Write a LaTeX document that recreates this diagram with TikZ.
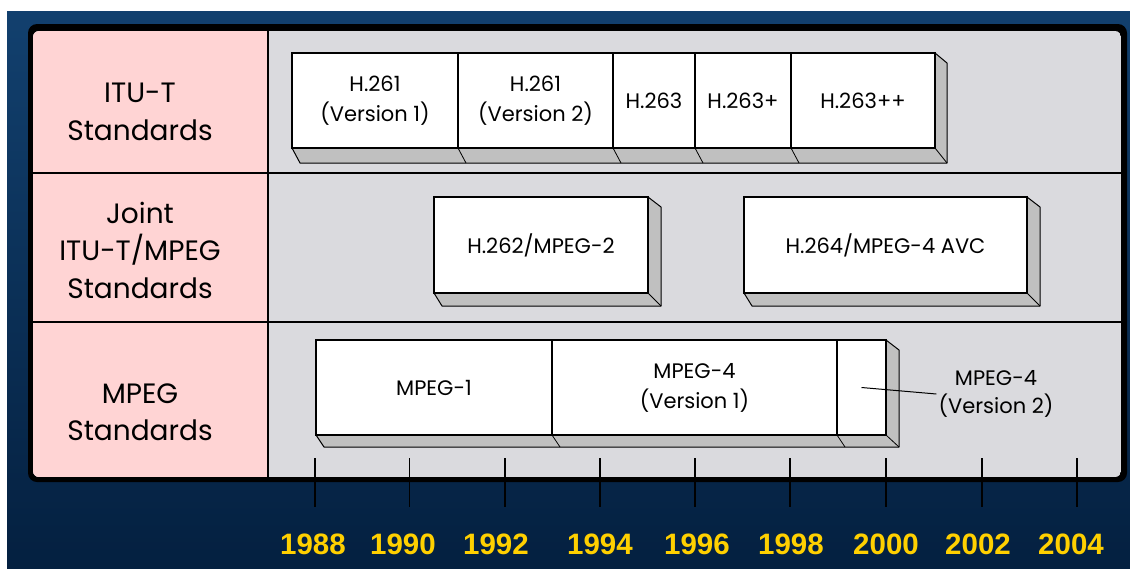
\documentclass[tikz,border=0pt]{standalone}
\usepackage{fontspec}
\setmainfont{Poppins}
\newfontfamily\yearfont{Liberation Sans}
\usetikzlibrary{calc}
\definecolor{bgtop}{RGB}{18,64,110}
\definecolor{bgbot}{RGB}{4,32,64}
\definecolor{pinkcol}{RGB}{255,212,212}
\definecolor{panelgray}{RGB}{218,218,222}
\definecolor{shadowgray}{RGB}{192,192,192}
\definecolor{yearyellow}{RGB}{255,208,0}
\pgfdeclarelayer{back}
\pgfdeclarelayer{shade}
\pgfsetlayers{back,shade,main}
\tikzset{
  segbox/.style={draw=black, line width=1.2pt, fill=white, inner sep=0pt, outer sep=0pt,
    align=center, font=\fontsize{21}{30}\selectfont},
  rowlabel/.style={align=center, font=\fontsize{28}{37.5}\selectfont, inner sep=0pt},
  freelabel/.style={align=center, font=\fontsize{21}{28}\selectfont, inner sep=2pt},
  yearlabel/.style={text=yearyellow, font=\yearfont\bfseries\fontsize{29.5}{30}\selectfont, inner sep=0pt},
  shadowface/.style={fill=shadowgray, draw=black, line width=1pt, line join=round},
  edgeline/.style={draw=black, line width=0.8pt},
  tickline/.style={draw=black, line width=1.3pt},
  leader/.style={draw=black, line width=1pt},
}
\begin{document}
\begin{tikzpicture}[x=1pt,y=-1pt]
\useasboundingbox (0,0) rectangle (1130,568);

\begin{pgfonlayer}{back}
  \shade[top color=bgtop, bottom color=bgbot] (7,11) rectangle (1130,568);
  \fill[black, rounded corners=9pt] (28,24) rectangle (1127,482);
  \begin{scope}
    \clip[rounded corners=6pt] (33,31) rectangle (1121,477);
    \fill[panelgray] (33,31) rectangle (1121,477);
    \fill[pinkcol] (33,31) rectangle (268,477);
  \end{scope}
  \draw[line width=2.2pt] (33,173) -- (1121,173);
  \draw[line width=2.2pt] (33,322) -- (1121,322);
  \draw[line width=1.5pt] (268,31) -- (268,477);
  \foreach \t in {315,409.5,505,600,695,790,886,982,1077}
    \draw[tickline] (\t,458) -- (\t,507);
\end{pgfonlayer}

% row labels
\node[rowlabel] (lbl1) at (140,112) {ITU-T\\Standards};
\node[rowlabel] (lbl2) at (140,250) {Joint\\ITU-T/MPEG\\Standards};
\node[rowlabel] (lbl3) at (140,412) {MPEG\\Standards};

% ITU-T row
\node[segbox, minimum width=166pt, minimum height=95pt] (h261a) at (375,100.5) {H.261\\(Version 1)};
\node[segbox, minimum width=155pt, minimum height=95pt] (h261b) at (535.5,100.5) {H.261\\(Version 2)};
\node[segbox, minimum width=82pt, minimum height=95pt] (h263) at (654,100.5) {H.263};
\node[segbox, minimum width=96pt, minimum height=95pt] (h263p) at (743,100.5) {H.263+};
\node[segbox, minimum width=144pt, minimum height=95pt] (h263pp) at (863,100.5) {H.263++};

% Joint row
\node[segbox, minimum width=214pt, minimum height=96pt] (h262) at (541,245) {H.262/MPEG-2};
\node[segbox, minimum width=283pt, minimum height=96pt] (h264) at (885.5,245) {H.264/MPEG-4 AVC};

% MPEG row
\node[segbox, minimum width=236pt, minimum height=95pt] (mpeg1) at (434,387.5) {MPEG-1};
\node[segbox, minimum width=285pt, minimum height=95pt] (mpeg4a) at (694.5,387.5) {MPEG-4\\(Version 1)};
\node[segbox, minimum width=49pt, minimum height=95pt] (mpeg4b) at (861.5,387.5) {};
\node[freelabel] (m4v2) at (996,394) {MPEG-4\\(Version 2)};
\draw[leader] (mpeg4b.center) -- (m4v2.west);

\begin{pgfonlayer}{shade}
  % row 1
  \path[shadowface] (h261a.south west) -- ++(8,15) -- ($(h263pp.south east)+(12,15)$)
    -- ($(h263pp.north east)+(12,10)$) -- (h263pp.north east) -- cycle;
  \draw[edgeline] (h261b.south west) -- ++(8,15);
  \draw[edgeline] (h263.south west) -- ++(8,15);
  \draw[edgeline] (h263p.south west) -- ++(8,15);
  \draw[edgeline] (h263pp.south west) -- ++(8,15);
  \draw[edgeline] (h263pp.south east) -- ++(12,15);
  % row 2
  \path[shadowface] (h262.south west) -- ++(8,13) -- ($(h262.south east)+(13,13)$)
    -- ($(h262.north east)+(13,10)$) -- (h262.north east) -- cycle;
  \draw[edgeline] (h262.south east) -- ++(13,13);
  \path[shadowface] (h264.south west) -- ++(8,13) -- ($(h264.south east)+(13,13)$)
    -- ($(h264.north east)+(13,10)$) -- (h264.north east) -- cycle;
  \draw[edgeline] (h264.south east) -- ++(13,13);
  % row 3
  \path[shadowface] (mpeg1.south west) -- ++(8,12) -- ($(mpeg4b.south east)+(13,12)$)
    -- ($(mpeg4b.north east)+(13,10)$) -- (mpeg4b.north east) -- cycle;
  \draw[edgeline] (mpeg4a.south west) -- ++(8,12);
  \draw[edgeline] (mpeg4b.south west) -- ++(8,12);
  \draw[edgeline] (mpeg4b.south east) -- ++(13,12);
\end{pgfonlayer}

% years
\foreach \x/\yr in {313/1988,403/1990,496/1992,600/1994,697/1996,791/1998,886/2000,978/2002,1071/2004}
  \node[yearlabel] (yr\yr) at (\x,544) {\yr};
\end{tikzpicture}
\end{document}
